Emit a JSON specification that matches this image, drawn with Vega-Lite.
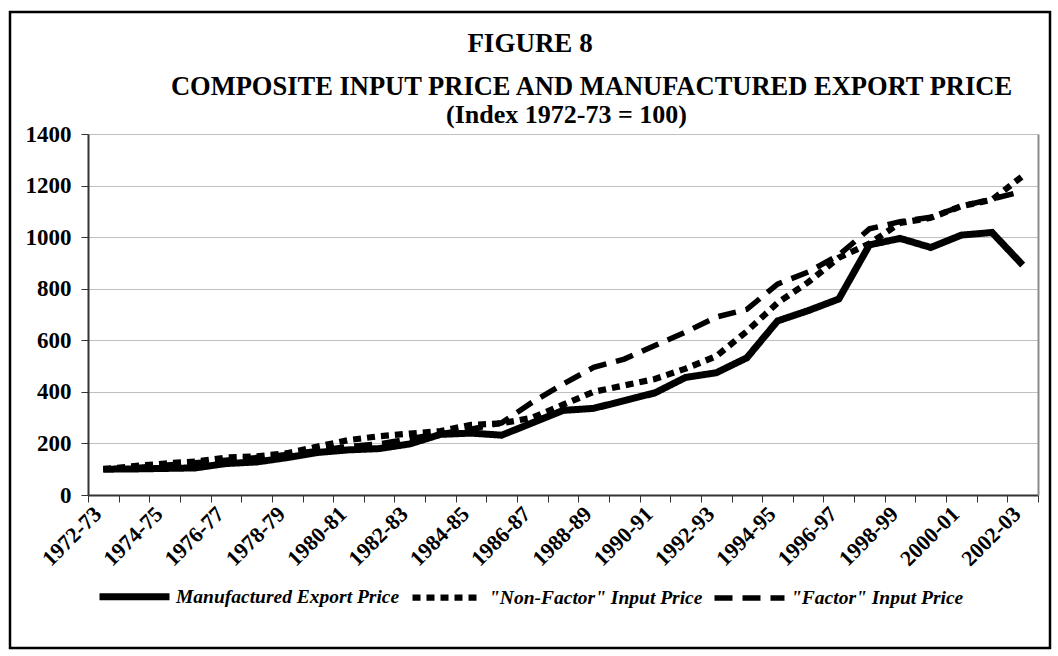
{
  "$schema": "https://vega.github.io/schema/vega-lite/v6.json",
  "width": 1040,
  "height": 636,
  "autosize": {"type": "none"},
  "padding": {"left": 10, "top": 12, "right": 8, "bottom": 8},
  "background": "white",
  "config": {
    "view": {"stroke": "black", "strokeWidth": 2.5},
    "font": "Liberation Serif"
  },
  "title": {
    "text": "FIGURE 8",
    "anchor": "middle",
    "frame": "group",
    "font": "Liberation Serif",
    "fontSize": 27,
    "fontWeight": "bold",
    "color": "black",
    "offset": -46
  },
  "datasets": {
    "d": [
      {"year": "1972-73", "M": 100, "N": 100, "F": 100},
      {"year": "1973-74", "M": 101, "N": 112, "F": 106},
      {"year": "1974-75", "M": 103, "N": 122, "F": 115},
      {"year": "1975-76", "M": 105, "N": 130, "F": 125},
      {"year": "1976-77", "M": 122, "N": 145, "F": 135},
      {"year": "1977-78", "M": 128, "N": 150, "F": 145},
      {"year": "1978-79", "M": 145, "N": 162, "F": 157},
      {"year": "1979-80", "M": 165, "N": 188, "F": 172},
      {"year": "1980-81", "M": 175, "N": 213, "F": 188},
      {"year": "1981-82", "M": 180, "N": 228, "F": 198},
      {"year": "1982-83", "M": 198, "N": 238, "F": 218},
      {"year": "1983-84", "M": 235, "N": 248, "F": 238},
      {"year": "1984-85", "M": 240, "N": 272, "F": 255},
      {"year": "1985-86", "M": 232, "N": 278, "F": 280},
      {"year": "1986-87", "M": 280, "N": 300, "F": 360},
      {"year": "1987-88", "M": 328, "N": 350, "F": 430},
      {"year": "1988-89", "M": 336, "N": 400, "F": 495},
      {"year": "1989-90", "M": 366, "N": 425, "F": 527},
      {"year": "1990-91", "M": 396, "N": 450, "F": 580},
      {"year": "1991-92", "M": 456, "N": 490, "F": 632},
      {"year": "1992-93", "M": 474, "N": 538, "F": 690},
      {"year": "1993-94", "M": 532, "N": 635, "F": 720},
      {"year": "1994-95", "M": 675, "N": 745, "F": 818},
      {"year": "1995-96", "M": 715, "N": 825, "F": 865},
      {"year": "1996-97", "M": 760, "N": 920, "F": 930},
      {"year": "1997-98", "M": 970, "N": 975, "F": 1032},
      {"year": "1998-99", "M": 995, "N": 1055, "F": 1060},
      {"year": "1999-00", "M": 960, "N": 1075, "F": 1077},
      {"year": "2000-01", "M": 1008, "N": 1120, "F": 1120},
      {"year": "2001-02", "M": 1018, "N": 1145, "F": 1148},
      {"year": "2002-03", "M": 892, "N": 1237, "F": 1178}
    ]
  },
  "data": {"name": "d"},
  "transform": [
    {"fold": ["M", "N", "F"], "as": ["key", "value"]},
    {"lookup": "key", "from": {"data": {"values": [
      {"key": "M", "series": "Manufactured Export Price"},
      {"key": "N", "series": "\"Non-Factor\" Input Price"},
      {"key": "F", "series": "\"Factor\"  Input Price"}
    ]}, "key": "key", "fields": ["series"]}}
  ],
  "encoding": {
    "x": {
      "field": "year",
      "type": "ordinal",
      "scale": {"type": "band", "range": [78, 1028], "paddingInner": 0, "paddingOuter": 0},
      "axis": {
        "offset": -153,
        "tickBand": "extent",
        "tickSize": 7,
        "tickColor": "#333333",
        "domainColor": "#333333",
        "domainWidth": 2,
        "grid": false,
        "labelAngle": -45,
        "labelAlign": "right",
        "labelBaseline": "middle",
        "labelPadding": 8,
        "labelOffset": -6,
        "labelOverlap": false,
        "labelFont": "Liberation Serif",
        "labelFontWeight": "bold",
        "labelFontSize": 22,
        "labelColor": "black",
        "labelExpr": "toNumber(substring(datum.value, 0, 4)) % 2 == 0 ? datum.value : ''",
        "title": "(Index 1972-73 = 100)",
        "titleX": 556,
        "titleY": -381,
        "titleAngle": 0,
        "titleAlign": "center",
        "titleBaseline": "middle",
        "titleFont": "Liberation Serif",
        "titleFontSize": 26,
        "titleFontWeight": "bold",
        "titleColor": "black"
      }
    },
    "y": {
      "field": "value",
      "type": "quantitative",
      "scale": {"domain": [0, 1400], "range": [483, 122], "nice": false, "zero": true}
    },
    "strokeDash": {
      "field": "series",
      "type": "nominal",
      "scale": {
        "domain": ["Manufactured Export Price", "\"Non-Factor\" Input Price", "\"Factor\"  Input Price"],
        "range": [[1, 0], [8, 6], [18, 10]]
      },
      "legend": {
        "title": null,
        "orient": "none",
        "legendX": 86,
        "legendY": 546,
        "direction": "horizontal",
        "columns": 3,
        "columnPadding": 0,
        "symbolType": "stroke",
        "symbolSize": 4900,
        "symbolStrokeColor": "black",
        "labelFont": "Liberation Serif",
        "labelFontSize": 19.5,
        "labelFontWeight": "bold",
        "labelFontStyle": "italic",
        "labelColor": "black",
        "labelLimit": 400,
        "labelOffset": 3
      }
    },
    "strokeWidth": {
      "field": "series",
      "type": "nominal",
      "scale": {
        "domain": ["Manufactured Export Price", "\"Non-Factor\" Input Price", "\"Factor\"  Input Price"],
        "range": [7, 5.5, 2.5]
      },
      "legend": {
        "title": null,
        "orient": "none",
        "legendX": 86,
        "legendY": 546,
        "direction": "horizontal",
        "columns": 3,
        "columnPadding": 0,
        "symbolType": "stroke",
        "symbolSize": 4900,
        "symbolStrokeColor": "black",
        "labelFont": "Liberation Serif",
        "labelFontSize": 19.5,
        "labelFontWeight": "bold",
        "labelFontStyle": "italic",
        "labelColor": "black",
        "labelLimit": 400,
        "labelOffset": 3
      }
    }
  },
  "layer": [
    {
      "transform": [{"filter": {"not": {"field": "key", "equal": "F"}}}],
      "mark": {"type": "line", "color": "black", "strokeJoin": "miter", "strokeCap": "butt"},
      "encoding": {
        "y": {
          "field": "value",
          "type": "quantitative",
          "axis": {
            "offset": -78,
            "values": [0, 200, 400, 600, 800, 1000, 1200, 1400],
            "format": "d",
            "grid": true,
            "gridColor": "#c0c0c0",
            "gridWidth": 1,
            "domainColor": "#333333",
            "domainWidth": 2,
            "tickColor": "#333333",
            "tickSize": 7,
            "labelPadding": 10,
            "labelFont": "Liberation Serif",
            "labelFontWeight": "bold",
            "labelFontSize": 23,
            "labelColor": "black",
            "title": "COMPOSITE INPUT PRICE AND MANUFACTURED EXPORT PRICE",
            "titleAngle": 0,
            "titleX": 503,
            "titleY": 74,
            "titleAlign": "center",
            "titleBaseline": "middle",
            "titleFont": "Liberation Serif",
            "titleFontSize": 26.5,
            "titleFontWeight": "bold",
            "titleColor": "black"
          }
        }
      }
    },
    {
      "transform": [{"filter": {"field": "key", "equal": "F"}}],
      "mark": {"type": "line", "color": "black", "strokeJoin": "miter", "strokeCap": "butt"},
      "encoding": {
        "y": {
          "field": "value",
          "type": "quantitative",
          "axis": {
            "orient": "right",
            "offset": -12,
            "grid": false,
            "labels": false,
            "ticks": false,
            "title": null,
            "domainColor": "#8c8c8c",
            "domainWidth": 2
          }
        }
      }
    }
  ],
  "resolve": {"axis": {"y": "independent"}}
}
